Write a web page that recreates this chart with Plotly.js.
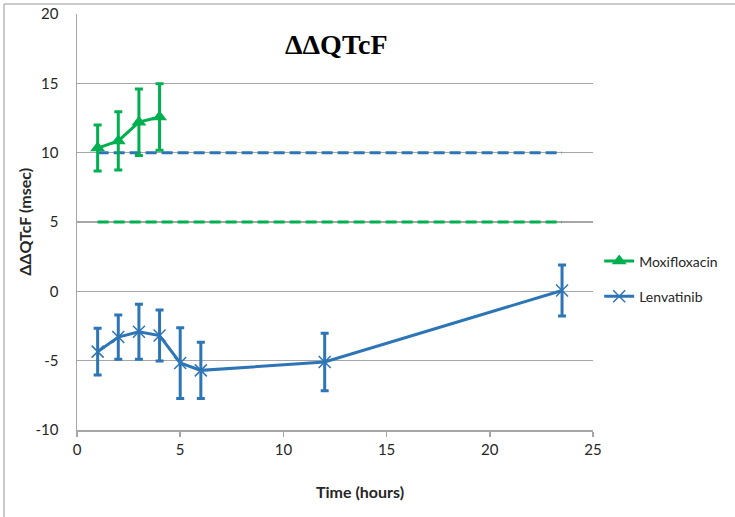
<!DOCTYPE html>
<html>
<head>
<meta charset="utf-8">
<script src="https://cdn.plot.ly/plotly-3.0.1.min.js"></script>
<style>html,body{margin:0;padding:0;background:#fff;}#chart{width:735px;height:517px;}</style>
</head>
<body>
<div id="chart"></div>
<script>
// Data
const moxiX = [1, 2, 3, 4];
const moxiY = [10.33, 10.85, 12.2, 12.57];
const moxiErr = [1.66, 2.1, 2.4, 2.4];

const lenvX = [1, 2, 3, 4, 5, 6, 12, 23.5];
const lenvY = [-4.35, -3.3, -2.92, -3.19, -5.17, -5.7, -5.1, 0.06];
const lenvErr = [1.68, 1.59, 1.98, 1.84, 2.55, 2.02, 2.07, 1.84];

const refX = [1, 23.5];
const refBlueY = [10, 10];
const refGreenY = [5, 5];

const xTicks = [0, 5, 10, 15, 20, 25];
const yTicks = [-10, -5, 0, 5, 10, 15, 20];

const GREEN = '#00B050';
const BLUE = '#2E75B6';
const FONT = 'Lato, "Open Sans", sans-serif';

const traces = [
  {x: refX, y: refBlueY, mode: 'lines', line: {color: BLUE, width: 3, dash: '11px,5px'}, showlegend: false, hoverinfo: 'skip'},
  {x: refX, y: refGreenY, mode: 'lines', line: {color: GREEN, width: 3, dash: '11px,5px'}, showlegend: false, hoverinfo: 'skip'},
  {x: moxiX, y: moxiY, name: 'Moxifloxacin', legendgroup: 'a', mode: 'lines+markers',
   line: {color: GREEN, width: 3}, marker: {symbol: 'triangle-up', size: 13, color: GREEN},
   error_y: {type: 'data', array: moxiErr, visible: true, color: GREEN, thickness: 3, width: 4}},
  {x: lenvX, y: lenvY, name: 'Lenvatinib', legendgroup: 'b', mode: 'lines+markers',
   line: {color: BLUE, width: 3}, marker: {symbol: 'x-thin-open', size: 12, color: BLUE, line: {color: BLUE, width: 1.5}},
   error_y: {type: 'data', array: lenvErr, visible: true, color: BLUE, thickness: 3, width: 4}}
];

const layout = {
  width: 735, height: 517,
  margin: {l: 77, r: 142, t: 14, b: 87, pad: 0},
  paper_bgcolor: '#fff', plot_bgcolor: '#fff',
  font: {family: FONT, size: 14, color: '#262626'},
  showlegend: true,
  legend: {x: 1.012, xanchor: 'left', y: 0.363, yanchor: 'middle', traceorder: 'grouped', tracegroupgap: 14,
           font: {family: FONT, size: 14, color: '#262626'}, bgcolor: 'rgba(0,0,0,0)'},
  xaxis: {range: [0, 25], tickvals: xTicks, ticktext: xTicks.map(String), showgrid: false, zeroline: false,
          showline: true, linecolor: '#a6a6a6', linewidth: 1.5, ticks: 'outside', ticklen: 5, tickcolor: '#a6a6a6', tickwidth: 1.5,
          tickfont: {family: FONT, size: 15, color: '#262626'}, fixedrange: true},
  yaxis: {range: [-10, 20], tickvals: yTicks, ticktext: yTicks.map(String), showgrid: true, gridcolor: '#a6a6a6', gridwidth: 1.3,
          zeroline: false, showline: true, linecolor: '#a6a6a6', linewidth: 1.5, ticks: '', ticklabelstandoff: 14,
          tickfont: {family: FONT, size: 15, color: '#262626'}, fixedrange: true},
  shapes: [
    {type: 'line', xref: 'paper', yref: 'paper', x0: -0.1415, x1: -0.1415, y0: 1.024, y1: -0.25, line: {color: '#b8b8b8', width: 1.5}},
    {type: 'line', xref: 'paper', yref: 'paper', x0: -0.1415, x1: 1.3, y0: 1.024, y1: 1.024, line: {color: '#b8b8b8', width: 1.5}}
  ],
  annotations: [
    {text: '<b>ΔΔQTcF</b>', xref: 'paper', yref: 'paper', x: 0.503, y: 0.927, xanchor: 'center', yanchor: 'middle', showarrow: false,
     font: {family: '"Liberation Serif", "Times New Roman", serif', size: 28, color: '#000'}},
    {text: '<b>Time (hours)</b>', xref: 'paper', yref: 'paper', x: 0.548, y: -0.149, xanchor: 'center', yanchor: 'middle', showarrow: false,
     font: {family: FONT, size: 16, color: '#262626'}},
    {text: '<b>ΔΔQTcF (msec)</b>', xref: 'paper', yref: 'paper', x: -0.103, y: 0.5, xanchor: 'center', yanchor: 'middle', textangle: -90, showarrow: false,
     font: {family: FONT, size: 16, color: '#262626'}}
  ]
};

Plotly.newPlot('chart', traces, layout, {displayModeBar: false, staticPlot: true});
</script>
</body>
</html>
